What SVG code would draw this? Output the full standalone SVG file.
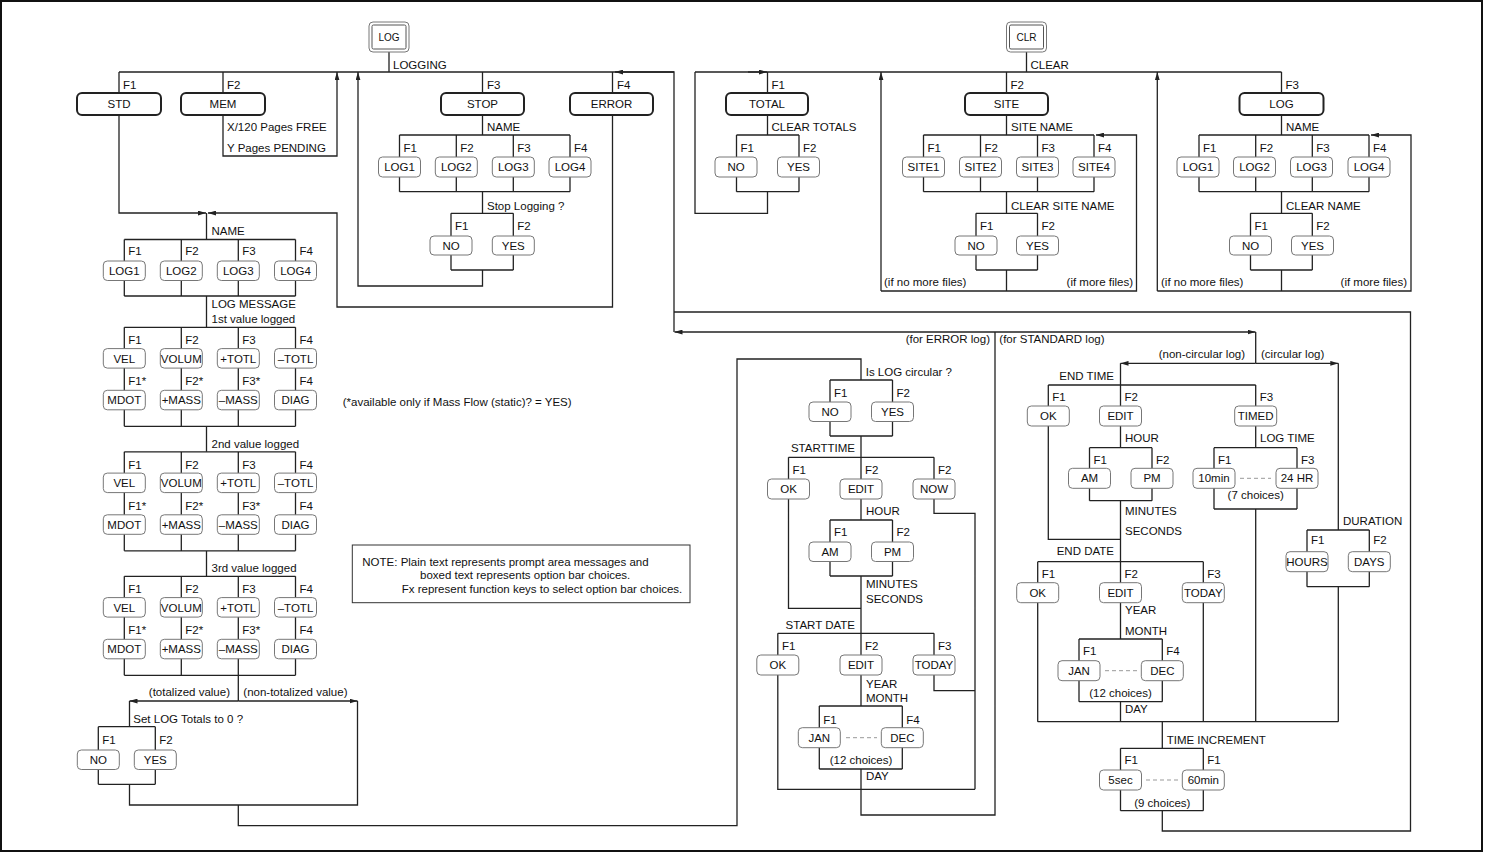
<svg xmlns="http://www.w3.org/2000/svg" width="1487" height="853" viewBox="0 0 1487 853">
<style>
.ln{fill:none;stroke:#222;stroke-width:1.3}
.bx{fill:#fff;stroke:#222;stroke-width:2}
.sb{fill:#fff;stroke:#777;stroke-width:1}
.t{font-family:"Liberation Sans",Arial,sans-serif;font-size:11.5px;fill:#111}
.k{font-family:"Liberation Sans",Arial,sans-serif;font-size:10px;fill:#111;text-anchor:middle}
.c{text-anchor:middle}
.e{text-anchor:end}
.dash{fill:none;stroke:#999;stroke-width:1;stroke-dasharray:4 3}
</style>
<defs>
<marker id="ah" viewBox="0 0 10 6" refX="10" refY="3" markerWidth="8" markerHeight="5" orient="auto" markerUnits="userSpaceOnUse"><path d="M0 0L10 3L0 6z" fill="#222"/></marker>
</defs>
<rect width="1487" height="853" fill="#fff"/>
<rect x="1" y="1" width="1481" height="850" fill="none" stroke="#111" stroke-width="2"/>

<g id="connectors" class="ln">
<path d="M389 52V72M119 72H674M119 72V93M223 72V93M482.5 72V93M612.5 72V93"/>
<path d="M119 115V213H206" marker-end="url(#ah)"/>
<path d="M223 115V156H337V72" marker-end="url(#ah)"/>
<path d="M612.5 115V307H337V213H208" marker-end="url(#ah)"/>
<path d="M206.5 213V239.5"/>
<path d="M482.5 115V135M399.5 135H570M399.5 135V191.7M456.3 135V191.7M513.3 135V191.7M570 135V191.7M399.5 191.7H570M482.5 191.7V213.3M451 213.3H513.3M451 213.3V270M513.3 213.3V270M451 270H513.3"/>
<path d="M482.5 270V286H358V72" marker-end="url(#ah)"/>
<path d="M674 332V72H615" marker-end="url(#ah)"/>

<path d="M1026.5 52V72M695 72H1281.5M695 72V213.3H767.5V191.7"/>
<path d="M748 72H767" marker-end="url(#ah)"/>
<path d="M767.5 72V135M736.5 135H799M736.5 135V191.7M799 135V191.7M736.5 191.7H799"/>
<path d="M1006.5 72V135M923.5 135H1094M923.5 135V191.7M980.5 135V191.7M1037.5 135V191.7M1094 135V191.7M923.5 191.7H1094M1006.5 191.7V213.3M976 213.3H1037.5M976 213.3V270M1037.5 213.3V270M976 270H1037.5M1006.5 270V291"/>
<path d="M881 291H1136.5V135H1096" marker-end="url(#ah)"/>
<path d="M881 291V72" marker-end="url(#ah)"/>
<path d="M1281.5 72V135M1199 135H1369M1199 135V191.7M1255.7 135V191.7M1312.3 135V191.7M1369 135V191.7M1199 191.7H1369M1281.5 191.7V213.3M1250.5 213.3H1312.3M1250.5 213.3V270M1312.3 213.3V270M1250.5 270H1312.3M1281.5 270V291"/>
<path d="M1157.3 291H1411V135H1371" marker-end="url(#ah)"/>
<path d="M1157.3 291V72" marker-end="url(#ah)"/>

<path d="M124.3 239.5H295.5M124.3 239.5V296M181.3 239.5V296M238.3 239.5V296M295.5 239.5V296M124.3 296H295.5M206.5 296V327.3"/>
<path d="M124.3 327.3H295.5M124.3 327.3V426.3M181.3 327.3V426.3M238.3 327.3V426.3M295.5 327.3V426.3M124.3 426.3H295.5M206.5 426.3V451.8"/>
<path d="M124.3 451.8H295.5M124.3 451.8V550.8M181.3 451.8V550.8M238.3 451.8V550.8M295.5 451.8V550.8M124.3 550.8H295.5M206.5 550.8V576.3"/>
<path d="M124.3 576.3H295.5M124.3 576.3V675.3M181.3 576.3V675.3M238.3 576.3V675.3M295.5 576.3V675.3M124.3 675.3H295.5M238.3 675.3V701"/>
<path d="M238.3 701H129.5" marker-end="url(#ah)"/>
<path d="M238.3 701H357.5" marker-end="url(#ah)"/>
<path d="M129.5 701V726.7M98.3 726.7H155.3M98.3 726.7V784.3M155.3 726.7V784.3M98.3 784.3H155.3M129.5 784.3V805H357.5V701"/>
<path d="M238.3 805V825.7H737V359H861V380"/>

<path d="M830 380H892.5M830 380V436M892.5 380V436M830 436H892.5M861 436V457.3M788.5 457.3H934M788.5 457.3V608.3H861M861 457.3V520M934 457.3V513.3H975V789.3M830 520H892.5M830 520V576M892.5 520V576M830 576H892.5M861 576V706"/>
<path d="M777.8 633.3H934M777.8 633.3V789.3H975M934 633.3V690.7H975"/>
<path d="M819.3 706H902.3M819.3 706V769M902.3 706V769M819.3 769H902.3M861 769V815H995V332"/>
<path d="M995 332H674.5" marker-end="url(#ah)"/>
<path d="M995 332H1255.5" marker-end="url(#ah)"/>
<path d="M674 312H1410.5V831H1162.3V810.7"/>

<path d="M1255.7 332V363.3"/>
<path d="M1255.7 363.3H1120.5" marker-end="url(#ah)"/>
<path d="M1255.7 363.3H1338.3" marker-end="url(#ah)"/>
<path d="M1120.5 363.3V447.7M1048.3 385H1255.7M1048.3 385V539.3H1120.5M1255.7 385V447.7"/>
<path d="M1089.5 447.7H1152M1089.5 447.7V500.7M1152 447.7V500.7M1089.5 500.7H1152M1120.5 500.7V639"/>
<path d="M1214 447.7H1297M1214 447.7V509M1297 447.7V509M1214 509H1297M1255.7 509V721.7"/>
<path d="M1037.7 561.7H1203.3M1037.7 561.7V721.7M1203.3 561.7V721.7"/>
<path d="M1079 639H1162.3M1079 639V701.7M1162.3 639V701.7M1079 701.7H1162.3M1120.5 701.7V721.7M1037.7 721.7H1338.3"/>
<path d="M1338.3 363.3V530M1307 530H1369.3M1307 530V586.7M1369.3 530V586.7M1307 586.7H1369.3M1338.3 586.7V721.7"/>
<path d="M1162.3 721.7V748.3M1120.5 748.3H1203.3M1120.5 748.3V810.7M1203.3 748.3V810.7M1120.5 810.7H1203.3"/>
<path class="dash" d="M846 737.7H877M1240 478.3H1271M1105 670.7H1137M1146 780H1178"/>
</g>

<g id="key-log"><rect x="369" y="22" width="40" height="30" rx="4" fill="#fff" stroke="#777"/><rect x="372" y="25" width="34" height="24" rx="1.5" fill="#fff" stroke="#555"/><text class="k" x="389" y="41">LOG</text></g>
<g id="key-clr"><rect x="1006.5" y="22" width="40" height="30" rx="4" fill="#fff" stroke="#777"/><rect x="1009.5" y="25" width="34" height="24" rx="1.5" fill="#fff" stroke="#555"/><text class="k" x="1026.5" y="41">CLR</text></g>

<g id="n-std"><rect class="bx" x="77" y="93" width="84" height="22" rx="5"/><text class="t c" x="119" y="108">STD</text></g>
<g id="n-mem"><rect class="bx" x="181" y="93" width="84" height="22" rx="5"/><text class="t c" x="223" y="108">MEM</text></g>
<g id="n-stop"><rect class="bx" x="441" y="93" width="83" height="22" rx="5"/><text class="t c" x="482.5" y="108">STOP</text></g>
<g id="n-error"><rect class="bx" x="570" y="93" width="83" height="22" rx="5"/><text class="t c" x="611.5" y="108">ERROR</text></g>
<g id="n-total"><rect class="bx" x="726" y="93" width="82" height="22" rx="5"/><text class="t c" x="767" y="108">TOTAL</text></g>
<g id="n-site"><rect class="bx" x="965" y="93" width="83" height="22" rx="5"/><text class="t c" x="1006.5" y="108">SITE</text></g>
<g id="n-clrlog"><rect class="bx" x="1239.5" y="93" width="84" height="22" rx="5"/><text class="t c" x="1281.5" y="108">LOG</text></g>

<g id="n-stop-log1"><rect class="sb" x="378.5" y="157" width="42" height="20" rx="4"/><text class="t c" x="399.5" y="171">LOG1</text></g>
<g id="n-stop-log2"><rect class="sb" x="435.3" y="157" width="42" height="20" rx="4"/><text class="t c" x="456.3" y="171">LOG2</text></g>
<g id="n-stop-log3"><rect class="sb" x="492.3" y="157" width="42" height="20" rx="4"/><text class="t c" x="513.3" y="171">LOG3</text></g>
<g id="n-stop-log4"><rect class="sb" x="549" y="157" width="42" height="20" rx="4"/><text class="t c" x="570" y="171">LOG4</text></g>
<g id="n-stop-no"><rect class="sb" x="430" y="236" width="42" height="19" rx="4"/><text class="t c" x="451" y="249.5">NO</text></g>
<g id="n-stop-yes"><rect class="sb" x="492.3" y="236" width="42" height="19" rx="4"/><text class="t c" x="513.3" y="249.5">YES</text></g>

<g id="n-tot-no"><rect class="sb" x="715" y="157" width="42" height="20" rx="4"/><text class="t c" x="736" y="171">NO</text></g>
<g id="n-tot-yes"><rect class="sb" x="777.5" y="157" width="42" height="20" rx="4"/><text class="t c" x="798.5" y="171">YES</text></g>
<g id="n-site1"><rect class="sb" x="902.5" y="157" width="42" height="20" rx="4"/><text class="t c" x="923.5" y="171">SITE1</text></g>
<g id="n-site2"><rect class="sb" x="959.5" y="157" width="42" height="20" rx="4"/><text class="t c" x="980.5" y="171">SITE2</text></g>
<g id="n-site3"><rect class="sb" x="1016.5" y="157" width="42" height="20" rx="4"/><text class="t c" x="1037.5" y="171">SITE3</text></g>
<g id="n-site4"><rect class="sb" x="1073" y="157" width="42" height="20" rx="4"/><text class="t c" x="1094" y="171">SITE4</text></g>
<g id="n-site-no"><rect class="sb" x="955" y="236" width="42" height="19" rx="4"/><text class="t c" x="976" y="249.5">NO</text></g>
<g id="n-site-yes"><rect class="sb" x="1016.5" y="236" width="42" height="19" rx="4"/><text class="t c" x="1037.5" y="249.5">YES</text></g>
<g id="n-clr-log1"><rect class="sb" x="1177" y="157" width="42" height="20" rx="4"/><text class="t c" x="1198" y="171">LOG1</text></g>
<g id="n-clr-log2"><rect class="sb" x="1233.5" y="157" width="42" height="20" rx="4"/><text class="t c" x="1254.5" y="171">LOG2</text></g>
<g id="n-clr-log3"><rect class="sb" x="1290.5" y="157" width="42" height="20" rx="4"/><text class="t c" x="1311.5" y="171">LOG3</text></g>
<g id="n-clr-log4"><rect class="sb" x="1348" y="157" width="42" height="20" rx="4"/><text class="t c" x="1369" y="171">LOG4</text></g>
<g id="n-clr-no"><rect class="sb" x="1229.5" y="236" width="42" height="19" rx="4"/><text class="t c" x="1250.5" y="249.5">NO</text></g>
<g id="n-clr-yes"><rect class="sb" x="1291.5" y="236" width="42" height="19" rx="4"/><text class="t c" x="1312.5" y="249.5">YES</text></g>

<g id="n-std-log1"><rect class="sb" x="103.3" y="261" width="42" height="19.5" rx="4"/><text class="t c" x="124.3" y="275">LOG1</text></g>
<g id="n-std-log2"><rect class="sb" x="160.3" y="261" width="42" height="19.5" rx="4"/><text class="t c" x="181.3" y="275">LOG2</text></g>
<g id="n-std-log3"><rect class="sb" x="217.3" y="261" width="42" height="19.5" rx="4"/><text class="t c" x="238.3" y="275">LOG3</text></g>
<g id="n-std-log4"><rect class="sb" x="274.5" y="261" width="42" height="19.5" rx="4"/><text class="t c" x="295.5" y="275">LOG4</text></g>

<g id="n-v1-vel"><rect class="sb" x="103.3" y="348.6" width="42" height="19.5" rx="4"/><text class="t c" x="124.3" y="362.6">VEL</text></g>
<g id="n-v1-volum"><rect class="sb" x="160.3" y="348.6" width="42" height="19.5" rx="4"/><text class="t c" x="181.3" y="362.6">VOLUM</text></g>
<g id="n-v1-ptotl"><rect class="sb" x="217.3" y="348.6" width="42" height="19.5" rx="4"/><text class="t c" x="238.3" y="362.6">+TOTL</text></g>
<g id="n-v1-mtotl"><rect class="sb" x="274.5" y="348.6" width="42" height="19.5" rx="4"/><text class="t c" x="295.5" y="362.6">–TOTL</text></g>
<g id="n-v1-mdot"><rect class="sb" x="103.3" y="390.3" width="42" height="19.5" rx="4"/><text class="t c" x="124.3" y="404.3">MDOT</text></g>
<g id="n-v1-pmass"><rect class="sb" x="160.3" y="390.3" width="42" height="19.5" rx="4"/><text class="t c" x="181.3" y="404.3">+MASS</text></g>
<g id="n-v1-mmass"><rect class="sb" x="217.3" y="390.3" width="42" height="19.5" rx="4"/><text class="t c" x="238.3" y="404.3">–MASS</text></g>
<g id="n-v1-diag"><rect class="sb" x="274.5" y="390.3" width="42" height="19.5" rx="4"/><text class="t c" x="295.5" y="404.3">DIAG</text></g>

<g id="n-v2-vel"><rect class="sb" x="103.3" y="473.1" width="42" height="19.5" rx="4"/><text class="t c" x="124.3" y="487.1">VEL</text></g>
<g id="n-v2-volum"><rect class="sb" x="160.3" y="473.1" width="42" height="19.5" rx="4"/><text class="t c" x="181.3" y="487.1">VOLUM</text></g>
<g id="n-v2-ptotl"><rect class="sb" x="217.3" y="473.1" width="42" height="19.5" rx="4"/><text class="t c" x="238.3" y="487.1">+TOTL</text></g>
<g id="n-v2-mtotl"><rect class="sb" x="274.5" y="473.1" width="42" height="19.5" rx="4"/><text class="t c" x="295.5" y="487.1">–TOTL</text></g>
<g id="n-v2-mdot"><rect class="sb" x="103.3" y="514.8" width="42" height="19.5" rx="4"/><text class="t c" x="124.3" y="528.8">MDOT</text></g>
<g id="n-v2-pmass"><rect class="sb" x="160.3" y="514.8" width="42" height="19.5" rx="4"/><text class="t c" x="181.3" y="528.8">+MASS</text></g>
<g id="n-v2-mmass"><rect class="sb" x="217.3" y="514.8" width="42" height="19.5" rx="4"/><text class="t c" x="238.3" y="528.8">–MASS</text></g>
<g id="n-v2-diag"><rect class="sb" x="274.5" y="514.8" width="42" height="19.5" rx="4"/><text class="t c" x="295.5" y="528.8">DIAG</text></g>

<g id="n-v3-vel"><rect class="sb" x="103.3" y="597.6" width="42" height="19.5" rx="4"/><text class="t c" x="124.3" y="611.6">VEL</text></g>
<g id="n-v3-volum"><rect class="sb" x="160.3" y="597.6" width="42" height="19.5" rx="4"/><text class="t c" x="181.3" y="611.6">VOLUM</text></g>
<g id="n-v3-ptotl"><rect class="sb" x="217.3" y="597.6" width="42" height="19.5" rx="4"/><text class="t c" x="238.3" y="611.6">+TOTL</text></g>
<g id="n-v3-mtotl"><rect class="sb" x="274.5" y="597.6" width="42" height="19.5" rx="4"/><text class="t c" x="295.5" y="611.6">–TOTL</text></g>
<g id="n-v3-mdot"><rect class="sb" x="103.3" y="639.3" width="42" height="19.5" rx="4"/><text class="t c" x="124.3" y="653.3">MDOT</text></g>
<g id="n-v3-pmass"><rect class="sb" x="160.3" y="639.3" width="42" height="19.5" rx="4"/><text class="t c" x="181.3" y="653.3">+MASS</text></g>
<g id="n-v3-mmass"><rect class="sb" x="217.3" y="639.3" width="42" height="19.5" rx="4"/><text class="t c" x="238.3" y="653.3">–MASS</text></g>
<g id="n-v3-diag"><rect class="sb" x="274.5" y="639.3" width="42" height="19.5" rx="4"/><text class="t c" x="295.5" y="653.3">DIAG</text></g>

<g id="n-tz-no"><rect class="sb" x="77.3" y="750" width="42" height="19.5" rx="4"/><text class="t c" x="98.3" y="764">NO</text></g>
<g id="n-tz-yes"><rect class="sb" x="134.3" y="750" width="42" height="19.5" rx="4"/><text class="t c" x="155.3" y="764">YES</text></g>

<g id="n-circ-no"><rect class="sb" x="809" y="402" width="42" height="19.5" rx="4"/><text class="t c" x="830" y="416">NO</text></g>
<g id="n-circ-yes"><rect class="sb" x="871.5" y="402" width="42" height="19.5" rx="4"/><text class="t c" x="892.5" y="416">YES</text></g>
<g id="n-st-ok"><rect class="sb" x="767.5" y="479" width="42" height="20" rx="4"/><text class="t c" x="788.5" y="493">OK</text></g>
<g id="n-st-edit"><rect class="sb" x="840" y="479" width="42" height="20" rx="4"/><text class="t c" x="861" y="493">EDIT</text></g>
<g id="n-st-now"><rect class="sb" x="913" y="479" width="42" height="20" rx="4"/><text class="t c" x="934" y="493">NOW</text></g>
<g id="n-st-am"><rect class="sb" x="809" y="542" width="42" height="19.5" rx="4"/><text class="t c" x="830" y="556">AM</text></g>
<g id="n-st-pm"><rect class="sb" x="871.5" y="542" width="42" height="19.5" rx="4"/><text class="t c" x="892.5" y="556">PM</text></g>
<g id="n-sd-ok"><rect class="sb" x="756.8" y="655" width="42" height="20" rx="4"/><text class="t c" x="777.8" y="669">OK</text></g>
<g id="n-sd-edit"><rect class="sb" x="840" y="655" width="42" height="20" rx="4"/><text class="t c" x="861" y="669">EDIT</text></g>
<g id="n-sd-today"><rect class="sb" x="913" y="655" width="42" height="20" rx="4"/><text class="t c" x="934" y="669">TODAY</text></g>
<g id="n-sd-jan"><rect class="sb" x="798.3" y="727.7" width="42" height="20" rx="4"/><text class="t c" x="819.3" y="741.7">JAN</text></g>
<g id="n-sd-dec"><rect class="sb" x="881.3" y="727.7" width="42" height="20" rx="4"/><text class="t c" x="902.3" y="741.7">DEC</text></g>

<g id="n-et-ok"><rect class="sb" x="1027.3" y="406" width="42" height="20" rx="4"/><text class="t c" x="1048.3" y="420">OK</text></g>
<g id="n-et-edit"><rect class="sb" x="1099.5" y="406" width="42" height="20" rx="4"/><text class="t c" x="1120.5" y="420">EDIT</text></g>
<g id="n-et-timed"><rect class="sb" x="1234.7" y="406" width="42" height="20" rx="4"/><text class="t c" x="1255.7" y="420">TIMED</text></g>
<g id="n-et-am"><rect class="sb" x="1068.5" y="468.3" width="42" height="20" rx="4"/><text class="t c" x="1089.5" y="482.3">AM</text></g>
<g id="n-et-pm"><rect class="sb" x="1131" y="468.3" width="42" height="20" rx="4"/><text class="t c" x="1152" y="482.3">PM</text></g>
<g id="n-lt-10min"><rect class="sb" x="1193" y="468.3" width="42" height="20" rx="4"/><text class="t c" x="1214" y="482.3">10min</text></g>
<g id="n-lt-24hr"><rect class="sb" x="1276" y="468.3" width="42" height="20" rx="4"/><text class="t c" x="1297" y="482.3">24 HR</text></g>
<g id="n-du-hours"><rect class="sb" x="1286" y="551.7" width="42" height="20" rx="4"/><text class="t c" x="1307" y="565.7">HOURS</text></g>
<g id="n-du-days"><rect class="sb" x="1348.3" y="551.7" width="42" height="20" rx="4"/><text class="t c" x="1369.3" y="565.7">DAYS</text></g>
<g id="n-ed-ok"><rect class="sb" x="1016.7" y="582.7" width="42" height="20" rx="4"/><text class="t c" x="1037.7" y="596.7">OK</text></g>
<g id="n-ed-edit"><rect class="sb" x="1099.5" y="582.7" width="42" height="20" rx="4"/><text class="t c" x="1120.5" y="596.7">EDIT</text></g>
<g id="n-ed-today"><rect class="sb" x="1182.3" y="582.7" width="42" height="20" rx="4"/><text class="t c" x="1203.3" y="596.7">TODAY</text></g>
<g id="n-ed-jan"><rect class="sb" x="1058" y="660.7" width="42" height="20" rx="4"/><text class="t c" x="1079" y="674.7">JAN</text></g>
<g id="n-ed-dec"><rect class="sb" x="1141.3" y="660.7" width="42" height="20" rx="4"/><text class="t c" x="1162.3" y="674.7">DEC</text></g>
<g id="n-ti-5sec"><rect class="sb" x="1099.5" y="770" width="42" height="20" rx="4"/><text class="t c" x="1120.5" y="784">5sec</text></g>
<g id="n-ti-60min"><rect class="sb" x="1182.3" y="770" width="42" height="20" rx="4"/><text class="t c" x="1203.3" y="784">60min</text></g>

<g id="note"><rect x="352.3" y="545" width="337.7" height="57.7" fill="#fff" stroke="#333" stroke-width="1"/>
<text class="t" x="362.3" y="565.8">NOTE: Plain text represents prompt area messages and</text>
<text class="t" x="420" y="579.3">boxed text represents option bar choices.</text>
<text class="t" x="401.7" y="593.4">Fx represent function keys to select option bar choices.</text></g>

<g id="labels" class="t">
<text x="393" y="69">LOGGING</text>
<text x="1030.5" y="69">CLEAR</text>
<text x="123" y="89">F1</text><text x="227" y="89">F2</text><text x="487" y="89">F3</text><text x="617" y="89">F4</text>
<text x="771.5" y="89">F1</text><text x="1010.5" y="89">F2</text><text x="1285.5" y="89">F3</text>
<text x="227" y="131">X/120 Pages FREE</text><text x="227" y="152">Y Pages PENDING</text>
<text x="487" y="131">NAME</text>
<text x="403.5" y="152">F1</text><text x="460.3" y="152">F2</text><text x="517.3" y="152">F3</text><text x="574" y="152">F4</text>
<text x="487" y="210">Stop Logging ?</text>
<text x="455" y="230">F1</text><text x="517.3" y="230">F2</text>
<text x="771.5" y="131">CLEAR TOTALS</text>
<text x="740.5" y="152">F1</text><text x="803" y="152">F2</text>
<text x="1011" y="131">SITE NAME</text>
<text x="927.5" y="152">F1</text><text x="984.5" y="152">F2</text><text x="1041.5" y="152">F3</text><text x="1098" y="152">F4</text>
<text x="1011" y="210">CLEAR SITE NAME</text>
<text x="980" y="230">F1</text><text x="1041.5" y="230">F2</text>
<text x="884" y="286">(if no more files)</text><text class="e" x="1133" y="286">(if more files)</text>
<text x="1286" y="131">NAME</text>
<text x="1203" y="152">F1</text><text x="1259.7" y="152">F2</text><text x="1316.3" y="152">F3</text><text x="1373" y="152">F4</text>
<text x="1286" y="210">CLEAR NAME</text>
<text x="1254.5" y="230">F1</text><text x="1316.3" y="230">F2</text>
<text x="1161" y="286">(if no more files)</text><text class="e" x="1407" y="286">(if more files)</text>

<text x="211.5" y="235">NAME</text>
<text x="128.3" y="255">F1</text><text x="185.3" y="255">F2</text><text x="242.3" y="255">F3</text><text x="299.5" y="255">F4</text>
<text x="211.5" y="307.5">LOG MESSAGE</text><text x="211.5" y="323">1st value logged</text>
<text x="128.3" y="344.3">F1</text><text x="185.3" y="344.3">F2</text><text x="242.3" y="344.3">F3</text><text x="299.5" y="344.3">F4</text>
<text x="128.3" y="385.3">F1*</text><text x="185.3" y="385.3">F2*</text><text x="242.3" y="385.3">F3*</text><text x="299.5" y="385.3">F4</text>
<text x="342.7" y="405.7">(*available only if Mass Flow (static)? = YES)</text>
<text x="211.5" y="448">2nd value logged</text>
<text x="128.3" y="468.8">F1</text><text x="185.3" y="468.8">F2</text><text x="242.3" y="468.8">F3</text><text x="299.5" y="468.8">F4</text>
<text x="128.3" y="509.8">F1*</text><text x="185.3" y="509.8">F2*</text><text x="242.3" y="509.8">F3*</text><text x="299.5" y="509.8">F4</text>
<text x="211.5" y="572">3rd value logged</text>
<text x="128.3" y="593.3">F1</text><text x="185.3" y="593.3">F2</text><text x="242.3" y="593.3">F3</text><text x="299.5" y="593.3">F4</text>
<text x="128.3" y="634.3">F1*</text><text x="185.3" y="634.3">F2*</text><text x="242.3" y="634.3">F3*</text><text x="299.5" y="634.3">F4</text>
<text class="e" x="230" y="696">(totalized value)</text><text x="243.3" y="696">(non-totalized value)</text>
<text x="133.3" y="723">Set LOG Totals to 0 ?</text>
<text x="102.3" y="744">F1</text><text x="159.3" y="744">F2</text>

<text class="e" x="990" y="343">(for ERROR log)</text><text x="999.3" y="343">(for STANDARD log)</text>
<text x="865.7" y="375.7">Is LOG circular ?</text>
<text x="834" y="396.5">F1</text><text x="896.5" y="396.5">F2</text>
<text class="e" x="855" y="452">STARTTIME</text>
<text x="792.5" y="474">F1</text><text x="865" y="474">F2</text><text x="938" y="474">F2</text>
<text x="866" y="515">HOUR</text>
<text x="834" y="536">F1</text><text x="896.5" y="536">F2</text>
<text x="866" y="587.5">MINUTES</text><text x="866" y="603">SECONDS</text>
<text class="e" x="855" y="629">START DATE</text>
<text x="782" y="650">F1</text><text x="865" y="650">F2</text><text x="938" y="650">F3</text>
<text x="866" y="687.5">YEAR</text><text x="866" y="701.5">MONTH</text>
<text x="823.3" y="723.5">F1</text><text x="906.3" y="723.5">F4</text>
<text class="c" x="861" y="764">(12 choices)</text>
<text x="866" y="780">DAY</text>

<text class="e" x="1245" y="357.5">(non-circular log)</text><text x="1261" y="357.5">(circular log)</text>
<text class="e" x="1114" y="380">END TIME</text>
<text x="1052.3" y="401">F1</text><text x="1124.5" y="401">F2</text><text x="1259.7" y="401">F3</text>
<text x="1125" y="442">HOUR</text><text x="1260" y="442">LOG TIME</text>
<text x="1093.5" y="464">F1</text><text x="1156" y="464">F2</text><text x="1218" y="464">F1</text><text x="1301" y="464">F3</text>
<text class="c" x="1255.7" y="498.5">(7 choices)</text>
<text x="1125" y="515">MINUTES</text><text x="1125" y="535">SECONDS</text>
<text x="1343" y="525">DURATION</text>
<text x="1311" y="544">F1</text><text x="1373.3" y="544">F2</text>
<text class="e" x="1114" y="555">END DATE</text>
<text x="1041.7" y="577.5">F1</text><text x="1124.5" y="577.5">F2</text><text x="1207.3" y="577.5">F3</text>
<text x="1125" y="614">YEAR</text><text x="1125" y="635">MONTH</text>
<text x="1083" y="655">F1</text><text x="1166.3" y="655">F4</text>
<text class="c" x="1120.5" y="696.5">(12 choices)</text>
<text x="1125" y="713">DAY</text>
<text x="1166.7" y="744">TIME INCREMENT</text>
<text x="1124.5" y="764">F1</text><text x="1207.3" y="764">F1</text>
<text class="c" x="1162.3" y="806.5">(9 choices)</text>
</g>
</svg>
